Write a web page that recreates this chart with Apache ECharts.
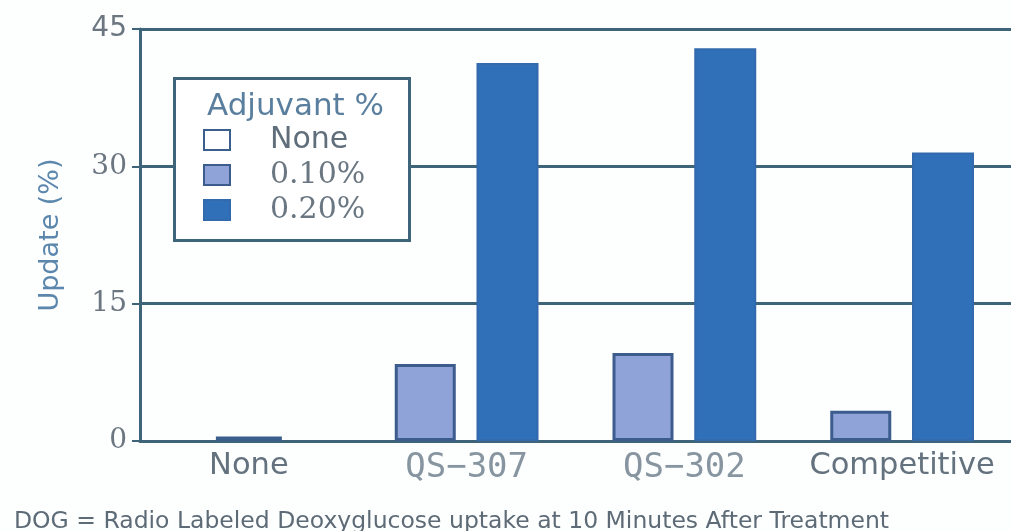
<!DOCTYPE html>
<html>
<head>
<meta charset="utf-8">
<script src="https://cdn.jsdelivr.net/npm/echarts@6/dist/echarts.min.js"></script>
<style>
html,body{margin:0;padding:0;background:#fdfefe;}
#c{width:1011px;height:531px;}
</style>
</head>
<body>
<div id="c"></div>
<script>
const categories = ['None', 'QS-307', 'QS-302', 'Competitive'];
const seriesNames = ['None', '0.10%', '0.20%'];
const adjNone = [0.5, null, null, null];
const adj010 = [null, 8.4, 9.6, 3.3];
const adj020 = [null, 41.3, 42.9, 31.5];
const yTicks = [0, 15, 30, 45];
const yTitle = 'Update (%)';
const legendTitle = 'Adjuvant %';
const footnote = 'DOG = Radio Labeled Deoxyglucose uptake at 10 Minutes After Treatment';

const AX = '#3d6479';
const chart = echarts.init(document.getElementById('c'));
chart.setOption({
  animation: false,
  backgroundColor: '#fdfefe',
  grid: {left: 140, right: -2, top: 29, bottom: 90, containLabel: false},
  title: [
    {text: legendTitle, left: 202, top: 86,
     textStyle: {fontFamily: 'DejaVu Sans', fontSize: 31, fontWeight: 'normal', color: '#5a7f9e'}},
    {text: footnote, left: 9, top: 505,
     textStyle: {fontFamily: 'DejaVu Sans', fontSize: 23.5, fontWeight: 'normal', color: '#5d6b77'}}
  ],
  graphic: [{
    type: 'rect', left: 173, top: 77, z: 3,
    shape: {width: 235, height: 162},
    style: {fill: '#ffffff', stroke: AX, lineWidth: 3}
  }],
  legend: {
    data: seriesNames.map(function (n) { return {name: n, icon: 'rect'}; }),
    orient: 'vertical', left: 203, top: 125,
    itemWidth: 26, itemHeight: 20, itemGap: 5, padding: 0, z: 5,
    selectedMode: false,
    formatter: function (n) { return n === 'None' ? '{s|' + n + '}' : '{r|' + n + '}'; },
    textStyle: {
      padding: [0, 0, 0, 35],
      rich: {
        s: {fontFamily: 'DejaVu Sans', fontSize: 30, color: '#5f6e7a'},
        r: {fontFamily: 'DejaVu Serif', fontSize: 30, color: '#6a7782'}
      }
    }
  },
  xAxis: [{
    type: 'category', data: categories,
    axisLine: {lineStyle: {color: AX, width: 3}},
    axisTick: {show: false},
    axisLabel: {
      margin: 10,
      formatter: function (v) { return v.indexOf('QS') === 0 ? '{m|' + v.replace('-', '\u2212') + '}' : '{s|' + v + '}'; },
      rich: {
        s: {fontFamily: 'DejaVu Sans', fontSize: 30.5, color: '#63727e'},
        m: {fontFamily: 'DejaVu Sans Mono', fontSize: 34, color: '#8795a0'}
      }
    }
  }, {
    type: 'category', data: categories, show: false
  }],
  yAxis: {
    type: 'value', min: 0, max: 45, interval: 15,
    name: yTitle, nameLocation: 'middle', nameGap: 76, nameRotate: 90,
    nameTextStyle: {fontFamily: 'DejaVu Sans', fontSize: 27, color: '#5b87ad'},
    axisLine: {show: true, lineStyle: {color: AX, width: 3}},
    axisTick: {show: true, length: 8, lineStyle: {color: AX, width: 2}},
    splitLine: {lineStyle: {color: AX, width: 3}},
    axisLabel: {
      margin: 13,
      formatter: function (v) { return yTicks.indexOf(v) >= 0 ? (v === 45 ? '{s|' + v + '}' : '{r|' + v + '}') : ''; },
      rich: {
        s: {fontFamily: 'DejaVu Sans', fontSize: 28, color: '#6b7680'},
        r: {fontFamily: 'DejaVu Serif', fontSize: 28, color: '#6b7680'}
      }
    }
  },
  series: [
    {name: 'None', type: 'bar', xAxisIndex: 1, data: adjNone, barWidth: 66,
     itemStyle: {color: '#ffffff', borderColor: '#3a5f8c', borderWidth: 3}},
    {name: '0.10%', type: 'bar', xAxisIndex: 0, data: adj010, barWidth: 61, barGap: '34%',
     itemStyle: {color: '#8fa3d8', borderColor: '#3d5c8e', borderWidth: 3}},
    {name: '0.20%', type: 'bar', xAxisIndex: 0, data: adj020, barWidth: 62, barGap: '34%',
     itemStyle: {color: '#3070b8', borderColor: '#3369ad', borderWidth: 2}}
  ]
});
</script>
</body>
</html>
